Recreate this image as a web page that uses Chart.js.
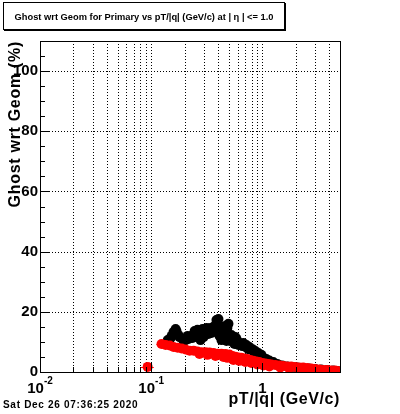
<!DOCTYPE html>
<html><head><meta charset="utf-8">
<script src="https://cdn.jsdelivr.net/npm/chart.js@4"></script>
<style>html,body{margin:0;padding:0;background:#fff;}canvas{display:block;}</style>
</head><body>
<canvas id="c" width="400" height="414"></canvas>
<script>
// ---- data ----
const blackX = [0.141,0.150,0.153,0.159,0.166,0.169,0.176,0.180,0.192,0.196,0.204,0.213,0.217,0.231,0.236,0.246,0.251,0.261,0.267,0.278,0.290,0.296,0.302,0.315,0.321,0.328,0.342,0.349,0.356,0.371,0.379,0.387,0.395,0.403,0.412,0.420,0.429,0.438,0.447,0.456,0.466,0.476,0.485,0.496,0.506,0.516,0.527,0.538,0.549,0.561,0.572,0.585,0.597,0.609,0.622,0.635,0.661,0.675,0.704,0.719,0.749,0.765,0.797,0.814,0.848,0.865,0.902,0.921,0.960,0.980,1.021,1.086,1.156,1.255,1.363,1.511,1.676,1.858,2.060,2.332,2.640,2.988,3.382,3.828,4.334,4.804];
const blackY = [10.6,11.3,12.0,13.3,14.3,13.6,12.3,11.6,11.0,10.3,10.6,12.0,11.0,12.0,11.3,13.6,12.3,14.0,13.0,10.6,14.3,11.6,13.0,14.6,13.6,12.6,14.6,13.0,14.6,15.3,14.0,17.3,16.0,17.6,12.0,13.6,10.6,15.0,11.3,13.0,15.3,10.3,14.6,16.0,12.0,10.3,12.3,11.6,11.0,9.3,11.6,11.0,10.3,9.0,9.3,9.0,8.6,9.6,8.3,9.0,7.6,8.3,7.3,7.6,6.6,7.0,6.0,6.3,5.3,5.7,4.8,4.3,3.8,3.3,2.7,2.2,1.8,1.7,1.5,1.3,1.2,1.0,0.8,0.7,0.5,0.3];
const redX = [0.093,0.124,0.135,0.147,0.159,0.173,0.188,0.204,0.222,0.241,0.261,0.272,0.284,0.308,0.321,0.335,0.364,0.379,0.395,0.429,0.447,0.466,0.485,0.506,0.538,0.549,0.572,0.609,0.622,0.648,0.689,0.704,0.733,0.780,0.797,0.830,0.884,0.902,0.940,1.000,1.021,1.064,1.132,1.156,1.204,1.308,1.420,1.450,1.543,1.676,1.747,1.820,1.977,2.147,2.200,2.332,2.533,2.640,2.751,2.988,3.245,3.300,3.525,3.828,3.990,4.157,4.516,4.804];
const redY = [1.7,9.3,9.0,8.8,8.3,8.1,7.8,7.5,7.1,7.1,6.8,6.0,6.6,6.6,5.7,6.5,6.3,5.3,6.1,6.1,5.0,6.0,4.7,5.8,5.3,4.0,5.1,4.8,3.7,4.7,4.5,3.3,4.3,4.0,3.0,3.7,3.5,2.5,3.3,3.0,2.2,2.8,2.7,1.8,2.5,2.3,2.2,1.5,2.0,1.8,1.2,1.8,1.7,1.5,1.0,1.5,1.3,0.7,1.2,1.0,0.8,0.5,0.7,0.7,0.3,0.5,0.5,0.3];
const binHalfWidth = 0.0125;
const yTicks = [0, 20, 40, 60, 80, 100];
const xMajor = [0.01, 0.1, 1];
const xTickLabels = [['10', '-2'], ['10', '-1'], ['1', '']];
const titleText = 'Ghost wrt Geom for Primary vs pT/|q| (GeV/c) at | \u03b7 | <= 1.0';
const yTitle = 'Ghost wrt Geom (%)';
const xTitle = 'pT/|q| (GeV/c)';
const dateText = 'Sat Dec 26 07:36:25 2020';

const FAM = '"Liberation Sans", Arial, Helvetica, sans-serif';
const pts = (xs, ys) => xs.map((x, i) => ({x: x, y: ys[i]}));

function xAllTicks(min, max) {
  const out = [];
  for (let e = -2; e <= 1; e++) {
    for (let m = 1; m <= 9; m++) {
      const v = +(m * Math.pow(10, e)).toPrecision(3);
      if (v >= min - 1e-9 && v <= max + 1e-9) out.push(v);
    }
  }
  return out;
}

function setSpacing(ctx, s) { if ('letterSpacing' in ctx) ctx.letterSpacing = s; }

const rootPlugin = {
  id: 'rootStyle',
  beforeDatasetsDraw(chart) {
    const {ctx, chartArea: a, scales: {x, y}} = chart;
    ctx.save();
    ctx.strokeStyle = '#000';
    ctx.lineWidth = 1;
    ctx.setLineDash([1, 2]);
    x.ticks.forEach(t => {
      const px = Math.round(x.getPixelForValue(t.value)) + 0.5;
      if (px <= a.left + 1 || px >= a.right - 1) return;
      ctx.beginPath(); ctx.moveTo(px, a.top); ctx.lineTo(px, a.bottom); ctx.stroke();
    });
    y.ticks.forEach(t => {
      const py = Math.round(y.getPixelForValue(t.value)) + 0.5;
      if (py <= a.top + 1 || py >= a.bottom - 1) return;
      ctx.beginPath(); ctx.moveTo(a.left, py); ctx.lineTo(a.right, py); ctx.stroke();
    });
    ctx.setLineDash([]);
    ctx.beginPath(); ctx.rect(a.left, a.top, a.right - a.left, a.bottom - a.top); ctx.clip();
    chart.data.datasets.slice().reverse().forEach(ds => {
      ctx.strokeStyle = ds.backgroundColor;
      ds.data.forEach(p => {
        const py = Math.round(y.getPixelForValue(p.y)) + 0.5;
        ctx.beginPath();
        ctx.moveTo(x.getPixelForValue(p.x - binHalfWidth), py);
        ctx.lineTo(x.getPixelForValue(p.x + binHalfWidth), py);
        ctx.stroke();
      });
    });
    ctx.restore();
  },
  afterDraw(chart) {
    const {ctx, chartArea: a, scales: {x, y}} = chart;
    ctx.save();
    ctx.strokeStyle = '#000';
    ctx.fillStyle = '#000';
    ctx.lineWidth = 1;
    ctx.strokeRect(a.left + 0.5, a.top + 0.5, a.right - a.left, a.bottom - a.top);
    for (let v = 0; v <= y.max; v += 5) {
      const py = Math.round(y.getPixelForValue(v)) + 0.5;
      const len = (v % 20 === 0) ? 9 : 5;
      ctx.beginPath(); ctx.moveTo(a.left, py); ctx.lineTo(a.left + len, py); ctx.stroke();
    }
    x.ticks.forEach(t => {
      const px = Math.round(x.getPixelForValue(t.value)) + 0.5;
      const len = xMajor.includes(t.value) ? 9 : 5;
      ctx.beginPath(); ctx.moveTo(px, a.bottom); ctx.lineTo(px, a.bottom - len); ctx.stroke();
    });
    xMajor.forEach((v, i) => {
      const [base, sup] = xTickLabels[i];
      ctx.font = 'bold 15px ' + FAM;
      const wb = ctx.measureText(base).width;
      ctx.font = 'bold 10px ' + FAM;
      const ws = sup ? ctx.measureText(sup).width : 0;
      const cx = x.getPixelForValue(v);
      const left = cx - (wb + ws) / 2;
      ctx.textAlign = 'left'; ctx.textBaseline = 'alphabetic';
      ctx.font = 'bold 15px ' + FAM;
      ctx.fillText(base, left, 393);
      if (sup) { ctx.font = 'bold 10px ' + FAM; ctx.fillText(sup, left + wb, 384); }
    });
    ctx.font = 'bold 16px ' + FAM;
    setSpacing(ctx, '0.6px');
    ctx.textAlign = 'right';
    ctx.fillText(xTitle, a.right, 404);
    ctx.save();
    ctx.translate(20, a.top);
    ctx.rotate(-Math.PI / 2);
    ctx.textAlign = 'right';
    ctx.font = 'bold 16px ' + FAM;
    setSpacing(ctx, '0.7px');
    ctx.fillText(yTitle, 0, 0);
    ctx.restore();
    ctx.font = 'bold 10px ' + FAM;
    setSpacing(ctx, '0.7px');
    ctx.textAlign = 'left';
    ctx.fillText(dateText, 3, 408);
    setSpacing(ctx, '0px');
    ctx.fillStyle = '#fff';
    ctx.fillRect(3, 2, 282, 28);
    ctx.fillStyle = '#000';
    ctx.strokeRect(3.5, 2.5, 281, 27);
    ctx.beginPath(); ctx.moveTo(4, 30.5); ctx.lineTo(286, 30.5); ctx.moveTo(285.5, 3); ctx.lineTo(285.5, 31); ctx.stroke();
    ctx.font = 'bold 9.5px ' + FAM;
    ctx.textAlign = 'center';
    ctx.fillText(titleText, 144, 20, 259);
    ctx.restore();
  }
};

new Chart(document.getElementById('c').getContext('2d'), {
  type: 'scatter',
  data: {
    datasets: [
      {label: 'red', data: pts(redX, redY), backgroundColor: '#ff0000', borderColor: '#ff0000', borderWidth: 0, pointRadius: 5, pointHoverRadius: 5, order: 1},
      {label: 'black', data: pts(blackX, blackY), backgroundColor: '#000000', borderColor: '#000000', borderWidth: 0, pointRadius: 5, pointHoverRadius: 5, order: 2}
    ]
  },
  options: {
    responsive: false,
    animation: false,
    devicePixelRatio: 1,
    events: [],
    layout: {padding: {left: 0, top: 41, right: 60, bottom: 0}},
    plugins: {legend: {display: false}, tooltip: {enabled: false}, title: {display: false}},
    scales: {
      x: {
        type: 'logarithmic', min: 0.01, max: 5,
        grid: {display: false}, border: {display: false},
        ticks: {display: false, autoSkip: false},
        afterBuildTicks: s => { s.ticks = xAllTicks(s.min, s.max).map(v => ({value: v})); },
        afterFit: s => { s.height = 42; }
      },
      y: {
        min: 0, max: 110,
        grid: {display: false, drawTicks: false}, border: {display: false},
        ticks: {color: '#000', padding: 2, font: {family: FAM, size: 15, weight: 'bold'}},
        afterBuildTicks: s => { s.ticks = yTicks.map(v => ({value: v})); },
        afterFit: s => { s.width = 40; }
      }
    }
  },
  plugins: [rootPlugin]
});
</script>
</body></html>
